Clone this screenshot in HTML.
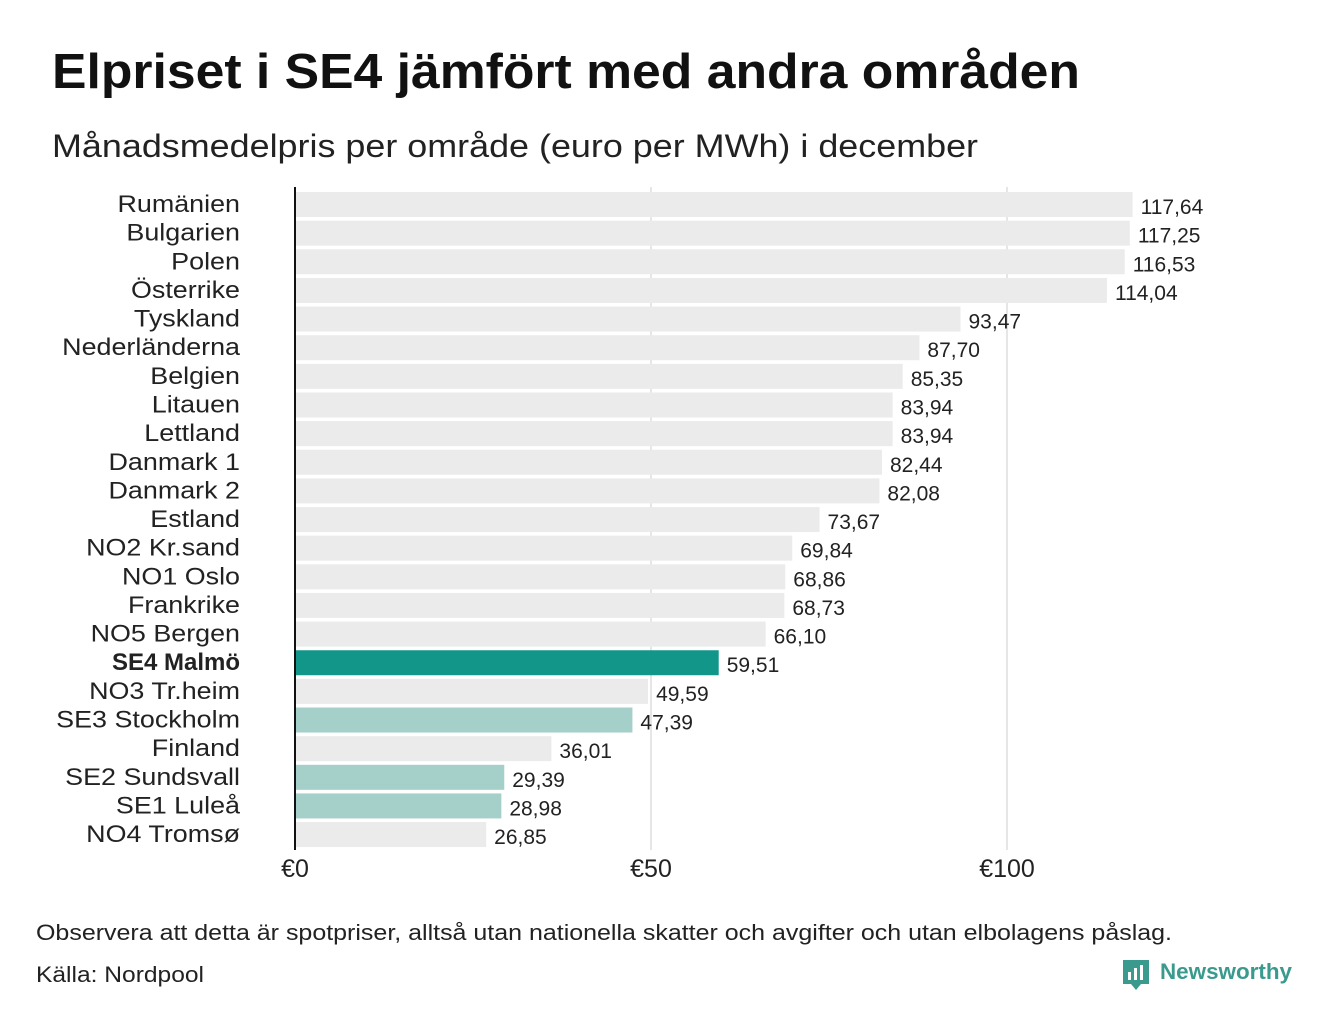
<!DOCTYPE html>
<html><head><meta charset="utf-8">
<style>
body{margin:0;background:#fff;width:1340px;height:1020px;overflow:hidden;font-family:"Liberation Sans",sans-serif;}
svg{display:block}
</style></head>
<body>
<svg id="chart" width="1340" height="1020">
<text x="52" y="88" font-size="49" font-weight="bold" fill="#111" textLength="1028" lengthAdjust="spacingAndGlyphs">Elpriset i SE4 jämfört med andra områden</text>
<text x="52" y="157" font-size="32" fill="#222" textLength="926" lengthAdjust="spacingAndGlyphs">Månadsmedelpris per område (euro per MWh) i december</text>
<g id="grid"></g><g id="bars"></g>
<line x1="295" y1="187" x2="295" y2="850" stroke="#111" stroke-width="2"/>
<text x="36" y="940" font-size="22" fill="#222" textLength="1136" lengthAdjust="spacingAndGlyphs">Observera att detta är spotpriser, alltså utan nationella skatter och avgifter och utan elbolagens påslag.</text>
<text x="36" y="982" font-size="22" fill="#222" textLength="168" lengthAdjust="spacingAndGlyphs">Källa: Nordpool</text>
<g>
<path d="M1123 960 h26 v24 h-8 l-5 6 l-5 -6 h-8 z" fill="#3a9a8e"/>
<rect x="1128" y="972" width="3" height="8" fill="#fff"/><rect x="1134" y="968" width="3" height="12" fill="#fff"/><rect x="1140" y="965" width="3" height="15" fill="#fff"/>
<text x="1160" y="979" font-size="22" font-weight="bold" fill="#3a9a8e" textLength="132" lengthAdjust="spacingAndGlyphs">Newsworthy</text>
</g>
</svg>
<script>
const categories=["Rumänien","Bulgarien","Polen","Österrike","Tyskland","Nederländerna","Belgien","Litauen","Lettland","Danmark 1","Danmark 2","Estland","NO2 Kr.sand","NO1 Oslo","Frankrike","NO5 Bergen","SE4 Malmö","NO3 Tr.heim","SE3 Stockholm","Finland","SE2 Sundsvall","SE1 Luleå","NO4 Tromsø"];
const values=[117.64,117.25,116.53,114.04,93.47,87.70,85.35,83.94,83.94,82.44,82.08,73.67,69.84,68.86,68.73,66.10,59.51,49.59,47.39,36.01,29.39,28.98,26.85];
const tickValues=[0,50,100];
const tickLabels=["€0","€50","€100"];
const NS="http://www.w3.org/2000/svg";
const x=v=>295+v*7.12;
const y=i=>192+i*28.64;
function mk(t,a,p){const e=document.createElementNS(NS,t);for(const k in a)e.setAttribute(k,a[k]);p.appendChild(e);return e;}
const grid=document.getElementById('grid'),bars=document.getElementById('bars');
tickValues.forEach((v,i)=>{
 if(v>0){const l=mk('line',{x1:x(v),x2:x(v),y1:187,y2:850,stroke:'#ccc','stroke-width':1},grid);
 
 }
 const t=mk('text',{x:x(v),y:877,'font-size':25,'text-anchor':'middle',fill:'#222'},grid);
 t.textContent=tickLabels[i];
 
 
});
categories.forEach((c,i)=>{
 const se=c.startsWith('SE');const se4=c==='SE4 Malmö';
 const fill=se4?'#12968a':(se?'#a5cfc9':'#ebebeb');
 const r=mk('rect',{x:296,y:y(i),width:x(values[i])-296,height:25,fill:fill},bars);
 
 
 const lb=mk('text',{x:240,y:y(i)+20,'font-size':24,'text-anchor':'end',fill:'#222','font-weight':se4?'bold':'normal'},bars);
 lb.textContent=c;
 if(!se4){const w=lb.getComputedTextLength();lb.setAttribute('textLength',(w*1.12).toFixed(1));lb.setAttribute('lengthAdjust','spacingAndGlyphs');}
 
 
 const vl=mk('text',{x:x(values[i])+8,y:y(i)+22,'font-size':21,fill:'#222'},bars);
 vl.textContent=values[i].toFixed(2).replace('.',',');
 
 
});
</script>
</body></html>
